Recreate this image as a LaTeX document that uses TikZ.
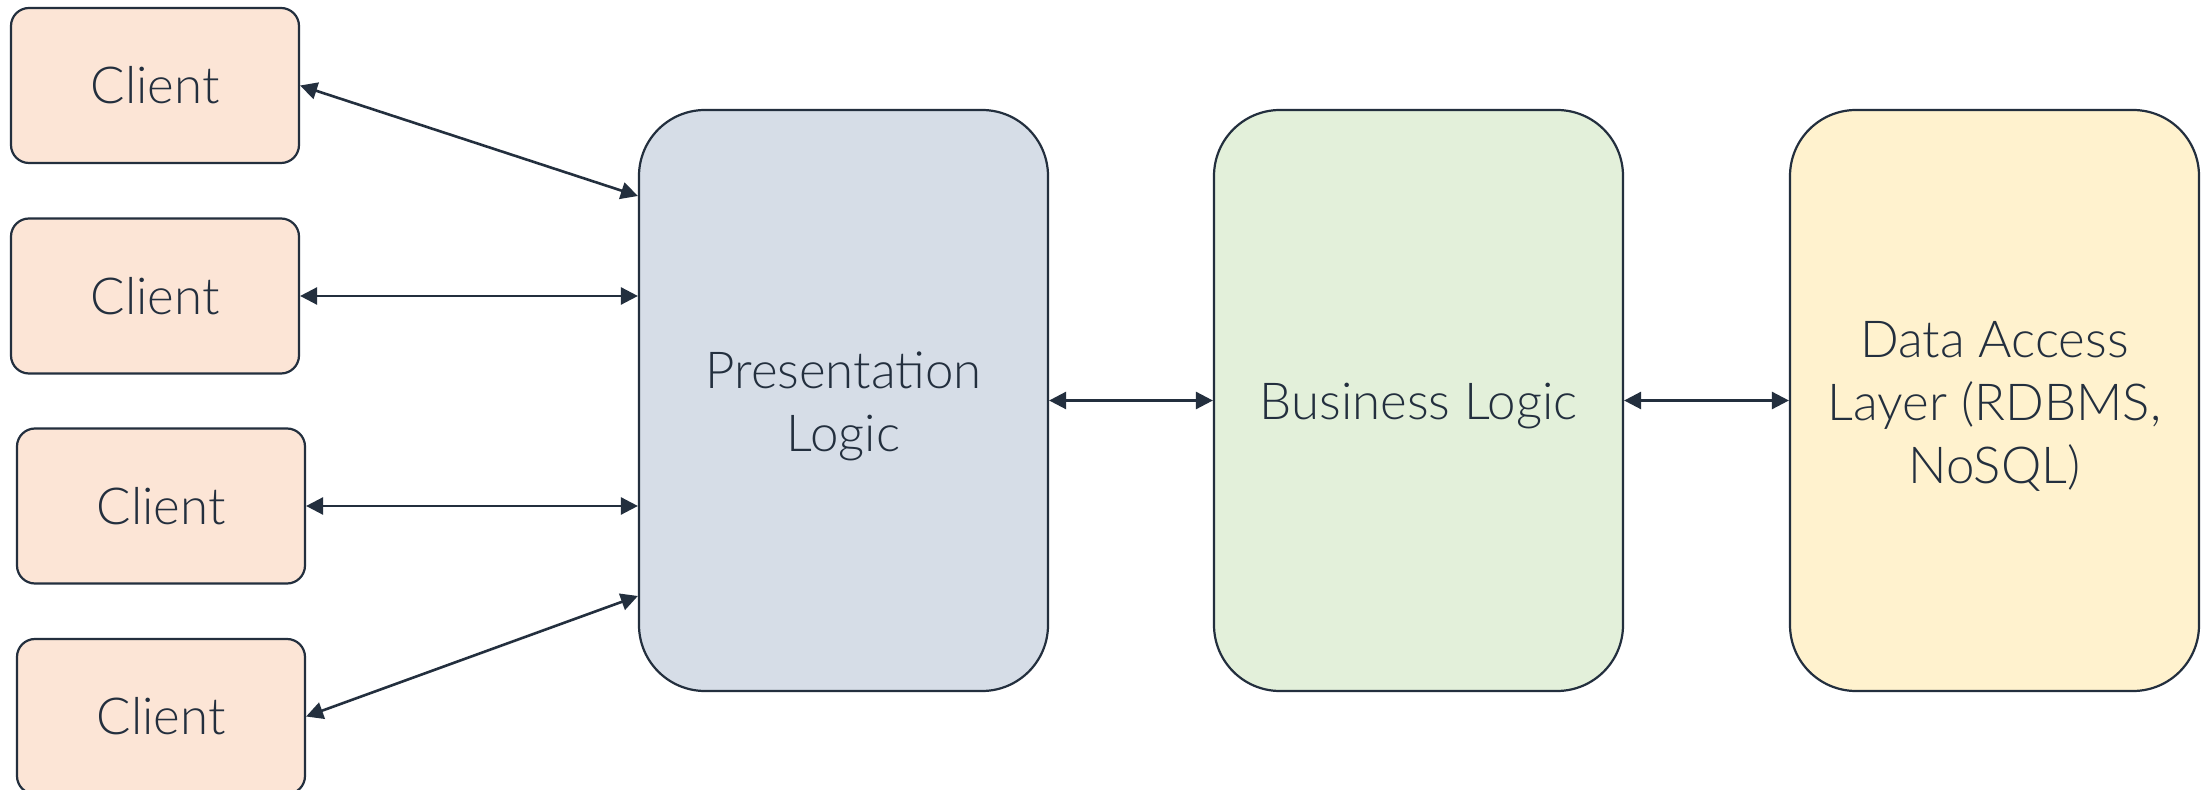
\documentclass[tikz,border=0pt]{standalone}
\usepackage{fontspec}
\setmainfont{Lato}[UprightFont=* Light]
\usetikzlibrary{arrows.meta,calc}
\definecolor{ink}{HTML}{232F3E}
\definecolor{clientfill}{HTML}{FCE5D6}
\definecolor{presfill}{HTML}{D6DDE7}
\definecolor{busfill}{HTML}{E3F0DA}
\definecolor{datafill}{HTML}{FFF2CE}
\tikzset{
  client/.style={draw=ink, line width=1.1pt, fill=clientfill, rounded corners=9pt,
    minimum width=144pt, minimum height=77.5pt, inner sep=0pt,
    text=ink, font=\fontsize{25.5}{31}\selectfont},
  tier/.style={draw=ink, line width=1.1pt, rounded corners=33pt,
    minimum width=204.5pt, minimum height=290.5pt, inner sep=0pt},
  tiertext/.style={align=center, inner sep=0pt, text=ink,
    font=\fontsize{25.5}{31.5}\selectfont},
  link/.style={draw=ink, line width=1.3pt,
    {Triangle[length=8.5pt,width=8.5pt]}-{Triangle[length=8.5pt,width=8.5pt]}}
}
\begin{document}
\begin{tikzpicture}[x=0.5pt,y=-0.5pt]
  \useasboundingbox[fill=white] (0,0) rectangle (2211,790);

  % clients on the left
  \node[client] (c1) at (155,85.5) {Client};
  \node[client] (c2) at (155,296) {Client};
  \node[client] (c3) at (161,506) {Client};
  \node[client] (c4) at (161,716.5) {Client};

  % three tiers, with their captions
  \node[tier, fill=presfill] (pres) at (843.5,400.5) {};
  \node[tier, fill=busfill] (bus) at (1418.5,400.5) {};
  \node[tier, fill=datafill] (data) at (1994.5,400.5) {};
  \node[tiertext] (presT) at ([yshift=-2.8pt]pres.center) {Presentation\\Logic};
  \node[tiertext] (busT) at ([yshift=-2.8pt]bus.center) {Business Logic};
  \node[tiertext] (dataT) at ([yshift=-2.8pt]data.center) {Data Access\\Layer (RDBMS,\\NoSQL)};

  % client connections
  \draw[link] (c1.east) -- ([yshift=102.25pt]pres.west);
  \draw[link] (c2.east) -- (pres.west |- c2.east);
  \draw[link] (c3.east) -- (pres.west |- c3.east);
  \draw[link] (c4.east) -- ([yshift=-97.75pt]pres.west);

  % tier connections
  \draw[link] (pres.east) -- (bus.west);
  \draw[link] (bus.east) -- (data.west);
\end{tikzpicture}
\end{document}
